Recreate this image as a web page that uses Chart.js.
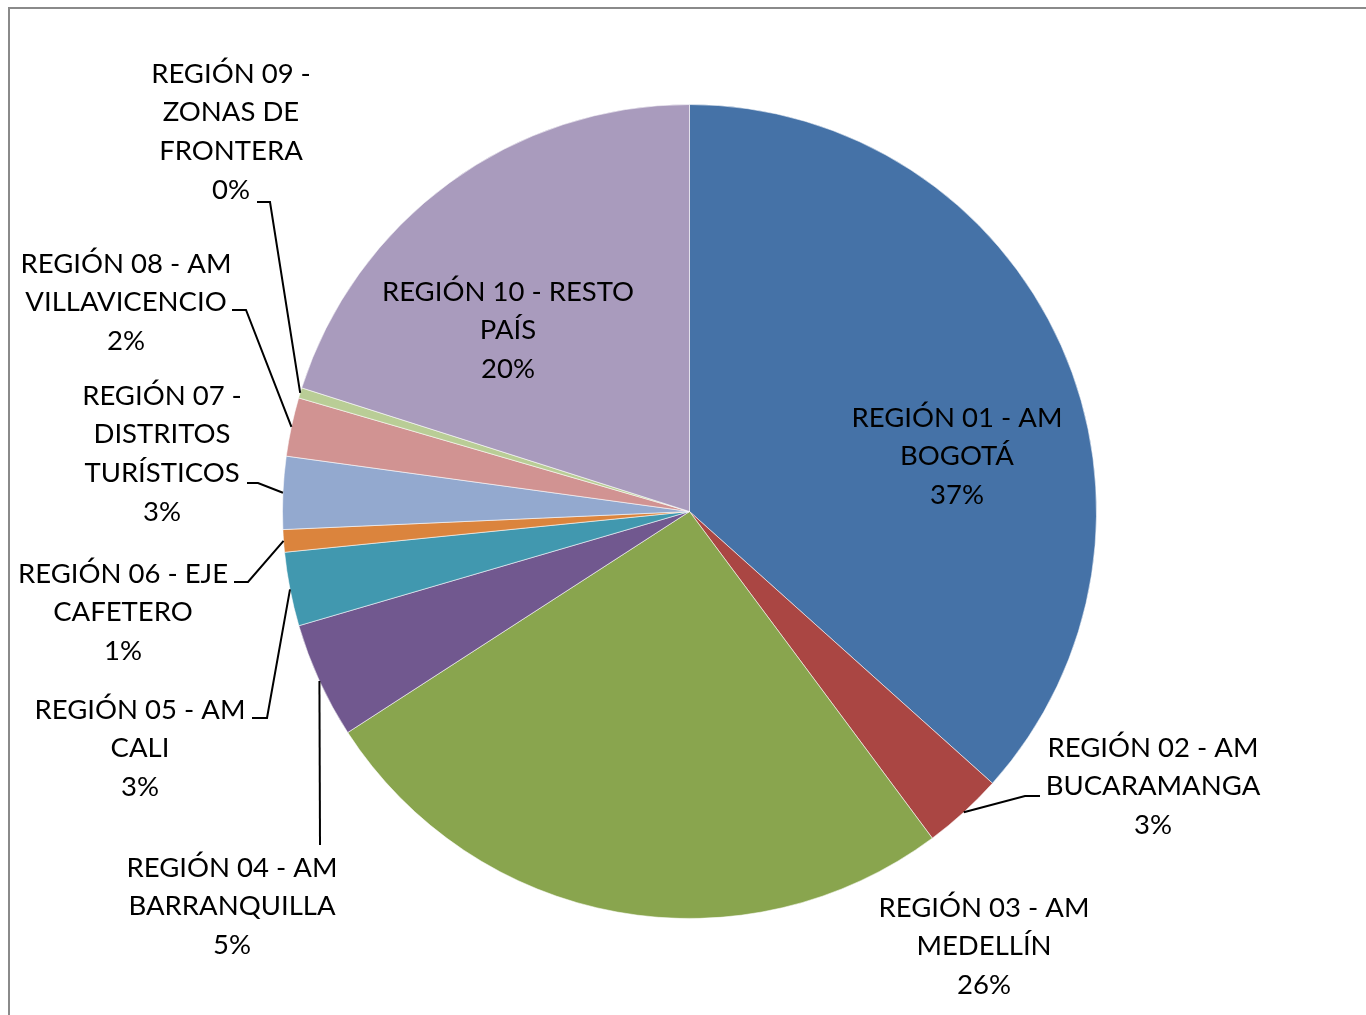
<!DOCTYPE html>
<html>
<head>
<meta charset="utf-8">
<script src="https://cdn.jsdelivr.net/npm/chart.js@4.4.1/dist/chart.umd.min.js"></script>
<style>
  html, body { margin: 0; padding: 0; background: #ffffff; }
  #wrap { position: relative; width: 1366px; height: 1015px; }
</style>
</head>
<body>
<div id="wrap"><canvas id="c" width="1366" height="1015"></canvas></div>
<script>
// ---- Data ----
const categories = [
  ["REGIÓN 01 - AM", "BOGOTÁ"],
  ["REGIÓN 02 - AM", "BUCARAMANGA"],
  ["REGIÓN 03 - AM", "MEDELLÍN"],
  ["REGIÓN 04 - AM", "BARRANQUILLA"],
  ["REGIÓN 05 - AM", "CALI"],
  ["REGIÓN 06 - EJE", "CAFETERO"],
  ["REGIÓN 07 -", "DISTRITOS", "TURÍSTICOS"],
  ["REGIÓN 08 - AM", "VILLAVICENCIO"],
  ["REGIÓN 09 -", "ZONAS DE", "FRONTERA"],
  ["REGIÓN 10 - RESTO", "PAÍS"]
];
const shares = [36.64, 3.19, 26.04, 4.61, 2.93, 0.89, 2.88, 2.33, 0.41, 20.09];
const colors = ["#4572A7", "#AA4643", "#89A54E", "#71588F", "#4198AF",
                "#DB843D", "#93A9CF", "#D19392", "#B9CD96", "#A99BBD"];

// ---- Label layout (text block centre x, first line y, leader path from arc toward text) ----
const labelLayout = [
  { x: 957,  y: 418, leader: null },
  { x: 1153, y: 748, leader: [[1025, 796], [1040, 796]] },
  { x: 984,  y: 908, leader: null },
  { x: 232,  y: 868, leader: [[320, 845]] },
  { x: 140,  y: 710, leader: [[267, 718], [252, 718]] },
  { x: 123,  y: 574, leader: [[248, 582], [234, 582]] },
  { x: 162,  y: 396, leader: [[258, 483], [247, 483]] },
  { x: 126,  y: 264, leader: [[246, 310], [232, 310]] },
  { x: 231,  y: 74,  leader: [[270, 202], [257, 202]] },
  { x: 508,  y: 292, leader: null }
];
const lineHeight = 38.6;
const fontSpec = '27.5px Lato, "Open Sans", sans-serif';

const total = shares.reduce((a, b) => a + b, 0);

const framePlugin = {
  id: 'frame',
  beforeDraw(chart) {
    const ctx = chart.ctx;
    ctx.save();
    ctx.strokeStyle = '#8a8a8a';
    ctx.lineWidth = 2;
    ctx.beginPath();
    ctx.moveTo(9, 1100);
    ctx.lineTo(9, 8);
    ctx.lineTo(1400, 8);
    ctx.stroke();
    ctx.restore();
  }
};

const labelPlugin = {
  id: 'pieLabels',
  afterDatasetsDraw(chart) {
    const ctx = chart.ctx;
    const meta = chart.getDatasetMeta(0);
    ctx.save();
    ctx.font = fontSpec;
    ctx.fillStyle = '#000';
    ctx.textAlign = 'center';
    ctx.textBaseline = 'middle';
    meta.data.forEach((arc, i) => {
      const L = labelLayout[i];
      const p = arc.getProps(['x', 'y', 'startAngle', 'endAngle', 'outerRadius'], true);
      if (L.leader) {
        const mid = (p.startAngle + p.endAngle) / 2;
        const ax = p.x + Math.cos(mid) * p.outerRadius;
        const ay = p.y + Math.sin(mid) * p.outerRadius;
        ctx.strokeStyle = '#000';
        ctx.lineWidth = 2;
        ctx.beginPath();
        ctx.moveTo(ax, ay);
        L.leader.forEach(pt => ctx.lineTo(pt[0], pt[1]));
        ctx.stroke();
      }
      const lines = categories[i].concat([Math.round(shares[i] / total * 100) + '%']);
      lines.forEach((t, k) => {
        ctx.fillText(t, L.x, L.y + k * lineHeight);
      });
    });
    ctx.restore();
  }
};

new Chart(document.getElementById('c'), {
  type: 'pie',
  data: {
    labels: categories,
    datasets: [{
      data: shares,
      backgroundColor: colors,
      borderColor: 'rgba(255,255,255,0.55)',
      borderWidth: 1
    }]
  },
  options: {
    responsive: false,
    animation: false,
    layout: { padding: { left: 282, right: 269, top: 104, bottom: 96 } },
    plugins: {
      legend: { display: false },
      tooltip: { enabled: false }
    }
  },
  plugins: [framePlugin, labelPlugin]
});
</script>
</body>
</html>
